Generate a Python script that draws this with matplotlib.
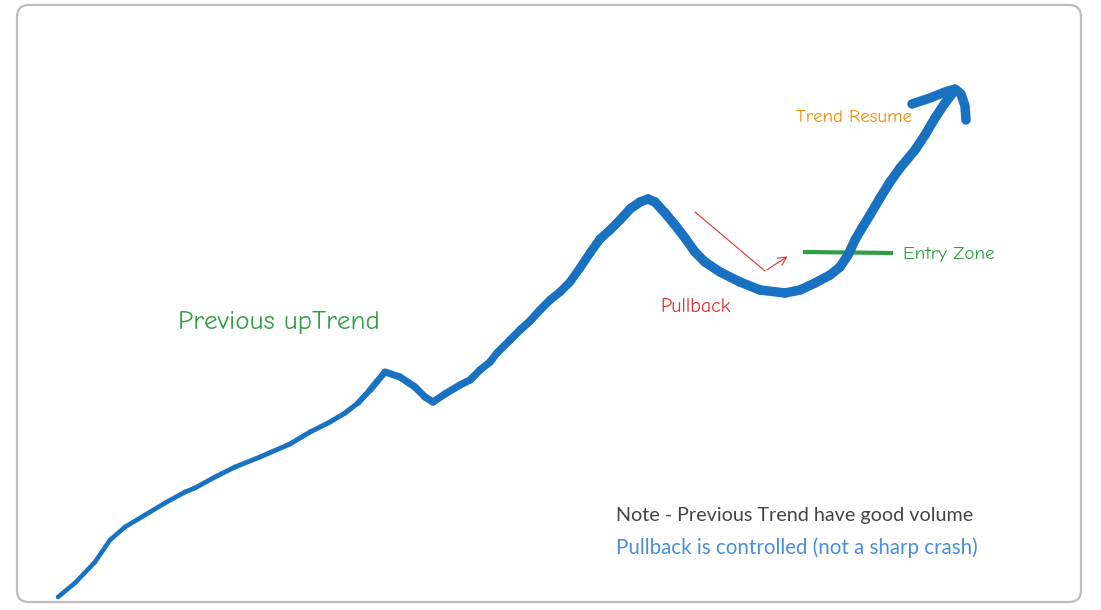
import numpy as np
import matplotlib
matplotlib.use("Agg")
import matplotlib.pyplot as plt
from matplotlib.collections import LineCollection
from matplotlib.patches import FancyBboxPatch, FancyArrowPatch

# sketched price path (time, price)
t = [58, 75, 95, 110, 125, 145, 165, 185, 195, 215, 235, 260, 290, 310, 330,
     345, 358, 370, 385, 400, 415, 425, 433, 445, 460, 470, 480, 490, 497, 510,
     520, 530, 540, 550, 560, 570, 580, 590, 600, 610, 620, 630, 640, 648, 655,
     665, 675, 685, 695, 705, 720, 740, 760, 785, 800, 815, 830, 840, 848, 855,
     862, 870, 880, 890, 900, 915, 925, 935, 945, 955]
y_px = [597, 583, 562, 540, 527, 515, 503, 492, 488, 477, 467, 457, 444, 432, 422,
        413, 403, 390, 372, 377, 387, 397, 402, 394, 385, 380, 370, 362, 353, 340,
        330, 321, 310, 300, 292, 282, 268, 253, 239, 230, 220, 209, 202, 199, 202,
        213, 225, 238, 252, 262, 272, 282, 290, 293, 290, 283, 275, 267, 255, 240,
        228, 215, 198, 182, 168, 150, 135, 118, 103, 90]
price = [610 - v for v in y_px]

# arrow head strokes at the end of the path
head_t = [912, 930, 945, 955, 961, 965, 966]
head_p = [610 - v for v in [104, 98, 92, 89, 94, 106, 120]]

# entry zone level and pullback pointer
entry_t = [803, 893]
entry_p = [610 - 252, 610 - 253]
pointer_t = [695, 765, 790]
pointer_p = [610 - 212, 610 - 271, 610 - 255]

BLUE = "#1971c2"
GREEN = "#2f9e44"
RED = "#e03131"
ORANGE = "#f08c00"

fig = plt.figure(figsize=(11.01, 6.10), dpi=100)
ax = fig.add_axes([0, 0, 1, 1])
ax.set_xlim(0, 1101)
ax.set_ylim(0, 610)
ax.axis("off")

# frame
frame = FancyBboxPatch((17, 8), 1064, 597,
                       boxstyle="round,pad=0,rounding_size=12",
                       fc="white", ec="#bdbdbd", lw=1.6, zorder=0)
ax.add_patch(frame)

# main stroke, gets thicker along the way
pts = np.column_stack([t, price])
segs = np.stack([pts[:-1], pts[1:]], axis=1)
mid = (np.array(t[:-1]) + np.array(t[1:])) / 2
width_px = np.interp(mid, [58, 350, 385, 500, 640, 960], [4.5, 5, 7, 7.5, 9.5, 9.5])
lc = LineCollection(segs, colors=BLUE, linewidths=width_px * 0.72,
                    capstyle="round", joinstyle="round", zorder=3)
ax.add_collection(lc)
ax.plot(head_t, head_p, color=BLUE, lw=9.5 * 0.72, solid_capstyle="round",
        solid_joinstyle="round", zorder=3)

# entry zone
ax.plot(entry_t, entry_p, color=GREEN, lw=3, solid_capstyle="butt", zorder=2)

# pullback pointer
ax.plot(pointer_t[:2], pointer_p[:2], color=RED, lw=0.8, zorder=2)
ax.add_patch(FancyArrowPatch((pointer_t[1], pointer_p[1]), (pointer_t[2], pointer_p[2]),
                             arrowstyle="->,head_length=6,head_width=3",
                             color=RED, lw=0.8, zorder=2))

hand = ["Comic Neue", "Lato", "DejaVu Sans"]
ax.text(178, 610 - 322, "Previous upTrend", color=GREEN, fontsize=19.5,
        family=hand, va="center", ha="left")
ax.text(660, 610 - 307, "Pullback", color=RED, fontsize=14.4,
        family=hand, va="center", ha="left")
ax.text(796, 610 - 118, "Trend Resume", color=ORANGE, fontsize=13.5,
        family=hand, va="center", ha="left")
ax.text(903, 610 - 255, "Entry Zone", color=GREEN, fontsize=13.8,
        family=hand, va="center", ha="left")

ax.text(795, 610 - 515, "Note - Previous Trend have good volume", color="#444444",
        fontsize=14.2, family=["Lato", "DejaVu Sans"], va="center", ha="center")
ax.text(797, 610 - 548, "Pullback is controlled (not a sharp crash)", color="#4a8fd6",
        fontsize=14.8, family=["Lato", "DejaVu Sans"], va="center", ha="center")

fig.savefig("out.png", dpi=100)
